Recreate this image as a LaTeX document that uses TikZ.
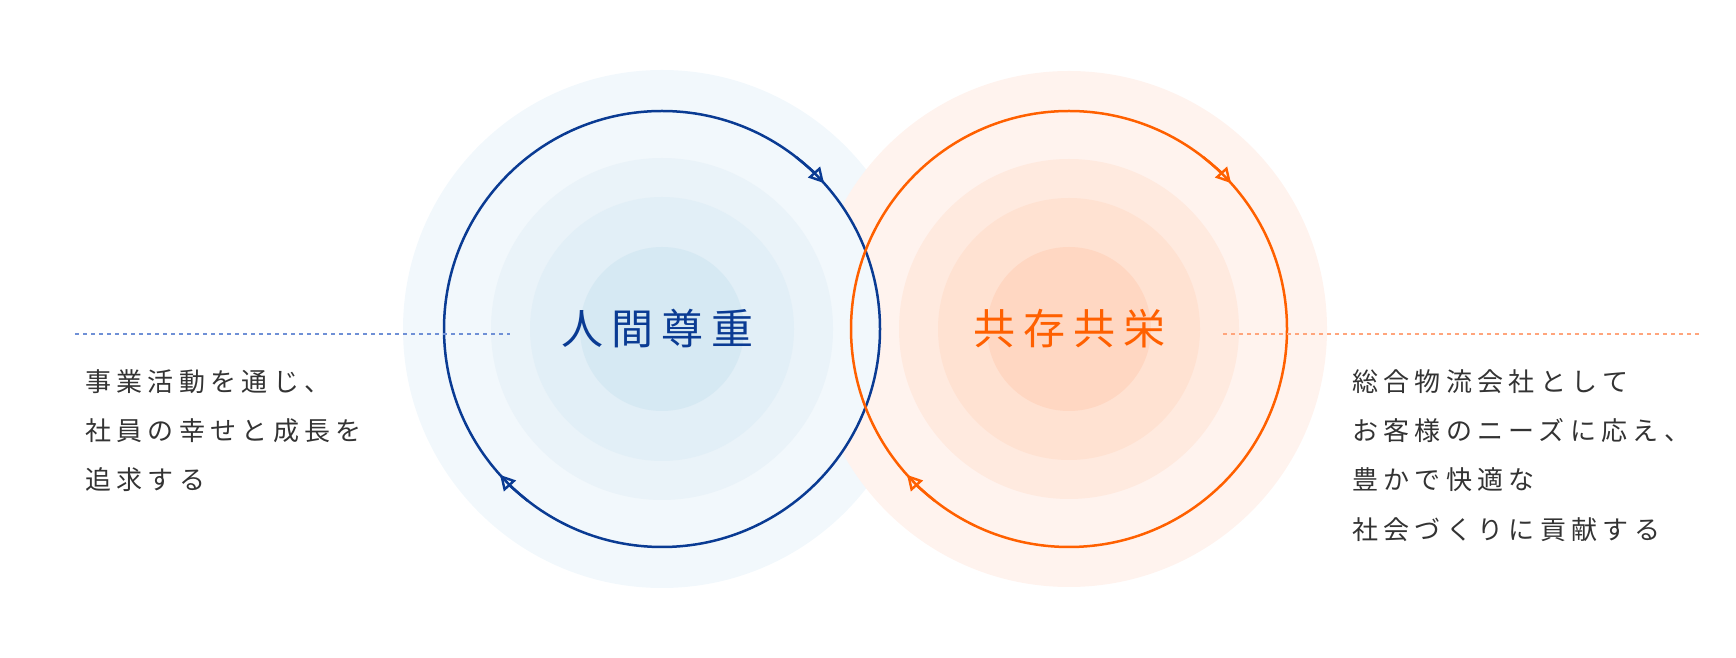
\documentclass[tikz,border=0pt]{standalone}
\usepackage{fontspec}
\usetikzlibrary{arrows.meta}
\newfontfamily\jpbody[LetterSpace=20.5]{Noto Sans CJK JP}
\newfontfamily\jptitle[LetterSpace=19]{Noto Sans CJK JP}
\definecolor{ringblue}{HTML}{0A3B93}
\definecolor{ringorange}{HTML}{FF6000}
\definecolor{bA}{HTML}{F2F8FC}
\definecolor{bB}{HTML}{EAF3F9}
\definecolor{bC}{HTML}{E2EFF7}
\definecolor{bD}{HTML}{D6E9F3}
\definecolor{oA}{HTML}{FFF3EE}
\definecolor{oB}{HTML}{FFEADF}
\definecolor{oC}{HTML}{FFE2D2}
\definecolor{oD}{HTML}{FFD7C2}
\definecolor{dotblue}{HTML}{6F90D6}
\definecolor{dotorange}{HTML}{FFA57C}
\definecolor{bodytext}{HTML}{333333}
\begin{document}
\begin{tikzpicture}[x=1pt,y=1pt,
  ring/.style={line width=2.5pt},
  tip/.style={-{Triangle[open,length=15pt,width=16pt,line width=2.4pt]}},
  guide/.style={line width=2pt,dash pattern=on 4pt off 4pt},
  bodyline/.style={anchor=base west,inner sep=0pt,text=bodytext,font=\jpbody\fontsize{26}{26}\selectfont},
  title/.style={anchor=base west,inner sep=0pt,font=\jptitle\fontsize{42}{42}\selectfont}]
\useasboundingbox (0,0) rectangle (1736,658);
\coordinate (lc) at (662,329);
\coordinate (rc) at (1069,329);
% background discs
\fill[bA] (lc) circle (259);
\fill[oA] (rc) circle (258);
\fill[bA] (lc) circle (218);
\fill[bB] (lc) circle (171);
\fill[bC] (lc) circle (132);
\fill[bD] (lc) circle (82);
\fill[oB] (rc) circle (170);
\fill[oC] (rc) circle (131);
\fill[oD] (rc) circle (82);
% rings
\draw[ring,ringblue] (lc) circle (218);
\draw[ring,ringorange] (rc) circle (218);
\draw[ring,ringblue,tip] ([shift={(52:218)}]lc) arc[start angle=52,end angle=42,radius=218];
\draw[ring,ringblue,tip] ([shift={(232:218)}]lc) arc[start angle=232,end angle=222,radius=218];
\draw[ring,ringorange,tip] ([shift={(52:218)}]rc) arc[start angle=52,end angle=42,radius=218];
\draw[ring,ringorange,tip] ([shift={(232:218)}]rc) arc[start angle=232,end angle=222,radius=218];
% guide lines
\coordinate (gl1) at (75,324);
\coordinate (gl2) at (510,324);
\coordinate (gr1) at (1223,324);
\coordinate (gr2) at (1700,324);
\draw[guide,dotblue] (gl1) -- (gl2);
\draw[guide,dotorange] (gr1) -- (gr2);
% titles
\node[title,text=ringblue] (t1) at (561,313) {人間尊重};
\node[title,text=ringorange] (t2) at (973,313) {共存共栄};
% body texts
\node[bodyline] (l1) at (85,266) {事業活動を通じ、};
\node[bodyline] (l2) at (85,217) {社員の幸せと成長を};
\node[bodyline] (l3) at (85,168) {追求する};
\node[bodyline] (r1) at (1352,266) {総合物流会社として};
\node[bodyline] (r2) at (1352,217) {お客様のニーズに応え、};
\node[bodyline] (r3) at (1352,168) {豊かで快適な};
\node[bodyline] (r4) at (1352,118) {社会づくりに貢献する};
\end{tikzpicture}
\end{document}
